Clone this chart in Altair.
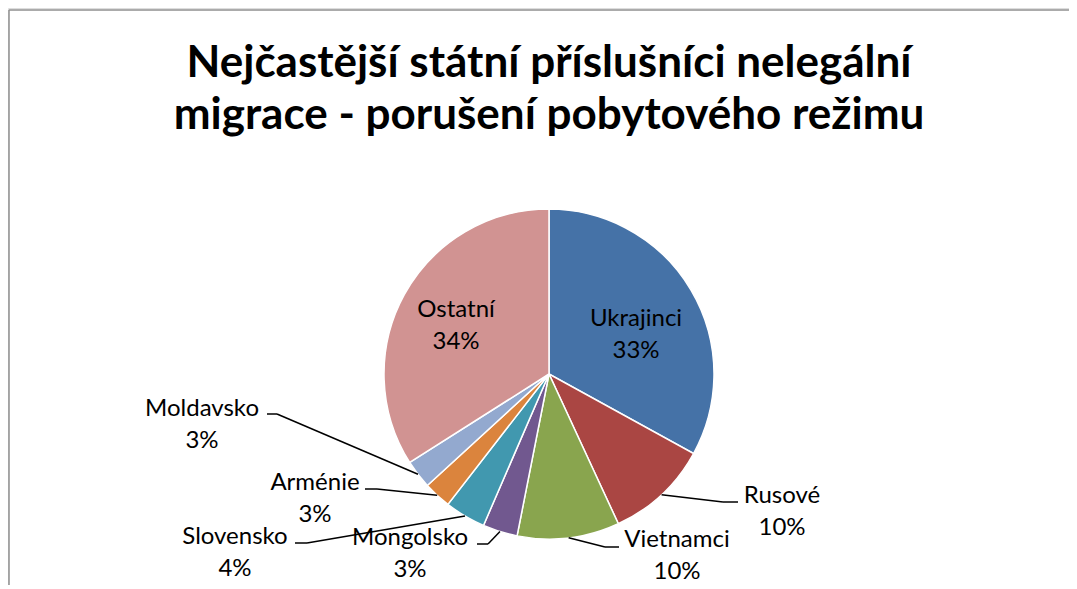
import math
import altair as alt
import pandas as pd

# ---- data ----
categories = ["Ukrajinci", "Rusové", "Vietnamci", "Mongolsko", "Slovensko",
              "Arménie", "Moldavsko", "Ostatní"]
values = [33.0, 10.1, 10.0, 3.4, 4.0, 2.7, 2.8, 34.0]
colors = ["#4572A7", "#AA4643", "#89A54E", "#71588F", "#4198AF",
          "#DB843D", "#93A9CF", "#D19392"]
title_lines = ["Nejčastější státní příslušníci nelegální",
               "migrace - porušení pobytového režimu"]

# ---- layout (chart pixel coords; page = chart + 8) ----
W, H = 1061, 577
CX, CY, R = 541, 366, 165
FONT = "Lato"
# first-line baseline position of each data label
label_pos = {
    "Ukrajinci": (628, 318),
    "Rusové": (774, 495),
    "Vietnamci": (669, 539),
    "Mongolsko": (402, 537),
    "Slovensko": (227, 536),
    "Arménie": (307, 482),
    "Moldavsko": (194, 408),
    "Ostatní": (448, 309),
}
# leader: (elbow_x, elbow_y, end_x) — horizontal piece ends next to label
leaders = {
    "Rusové": (715, 494, 730),
    "Vietnamci": (597, 539, 611),
    "Mongolsko": (480, 536, 469),
    "Slovensko": (299, 535, 287),
    "Arménie": (369, 481, 357),
    "Moldavsko": (269, 406, 259),
}

total = sum(values)
rows = []
cum = 0.0
for i, (c, v) in enumerate(zip(categories, values)):
    mid = (cum + v / 2) / total * 2 * math.pi
    cum += v
    pct = int(v / total * 100 + 0.5)
    lx, ly = label_pos[c]
    rows.append(dict(cat=c, val=v, order=i, lbl=f"{c}\n{pct}%", lx=lx, ly=ly,
                     rx=CX + R * math.sin(mid), ry=CY - R * math.cos(mid)))
df = pd.DataFrame(rows)

segs = []
for r in rows:
    if r["cat"] in leaders:
        ex, ey, tx = leaders[r["cat"]]
        segs.append(dict(x=r["rx"], y=r["ry"], x2=ex, y2=ey))
        segs.append(dict(x=ex, y=ey, x2=tx, y2=ey))
seg_df = pd.DataFrame(segs)

color_scale = alt.Scale(domain=categories, range=colors)

pie = alt.Chart(df).mark_arc(outerRadius=R, stroke="white", strokeWidth=1.5).encode(
    theta=alt.Theta("val:Q", stack=True),
    color=alt.Color("cat:N", scale=color_scale, legend=None),
    order=alt.Order("order:Q"),
    x=alt.value(CX), y=alt.value(CY),
)

lines = alt.Chart(seg_df).mark_rule(color="black", strokeWidth=1.5).encode(
    x=alt.X("x:Q", scale=None), y=alt.Y("y:Q", scale=None),
    x2="x2:Q", y2="y2:Q",
)

labels = alt.Chart(df).mark_text(
    font=FONT, fontSize=24, lineBreak="\n", lineHeight=32, align="center",
    baseline="alphabetic", color="black",
).encode(
    x=alt.X("lx:Q", scale=None), y=alt.Y("ly:Q", scale=None), text="lbl:N",
)

title_df = pd.DataFrame({"t": ["\n".join(title_lines)], "x": [541], "y": [69]})
title = alt.Chart(title_df).mark_text(
    font=FONT, fontSize=44, fontWeight="bold", lineBreak="\n", lineHeight=52,
    align="center", baseline="alphabetic", color="black",
).encode(x=alt.X("x:Q", scale=None), y=alt.Y("y:Q", scale=None), text="t:N")

border_df = pd.DataFrame({"x": [1, 1], "y": [2, 2], "x2": [1, W], "y2": [H, 2]})
border = alt.Chart(border_df).mark_rule(color="#8f8f8f", strokeWidth=1.5).encode(
    x=alt.X("x:Q", scale=None), y=alt.Y("y:Q", scale=None),
    x2="x2:Q", y2="y2:Q",
)

chart = alt.layer(border, pie, lines, labels, title).properties(
    width=W, height=H, autosize=alt.AutoSizeParams(type="none"), padding=0,
).configure_view(stroke=None).configure(background="white")

chart.save("out.html", embed_options={"renderer": "svg", "actions": False})
